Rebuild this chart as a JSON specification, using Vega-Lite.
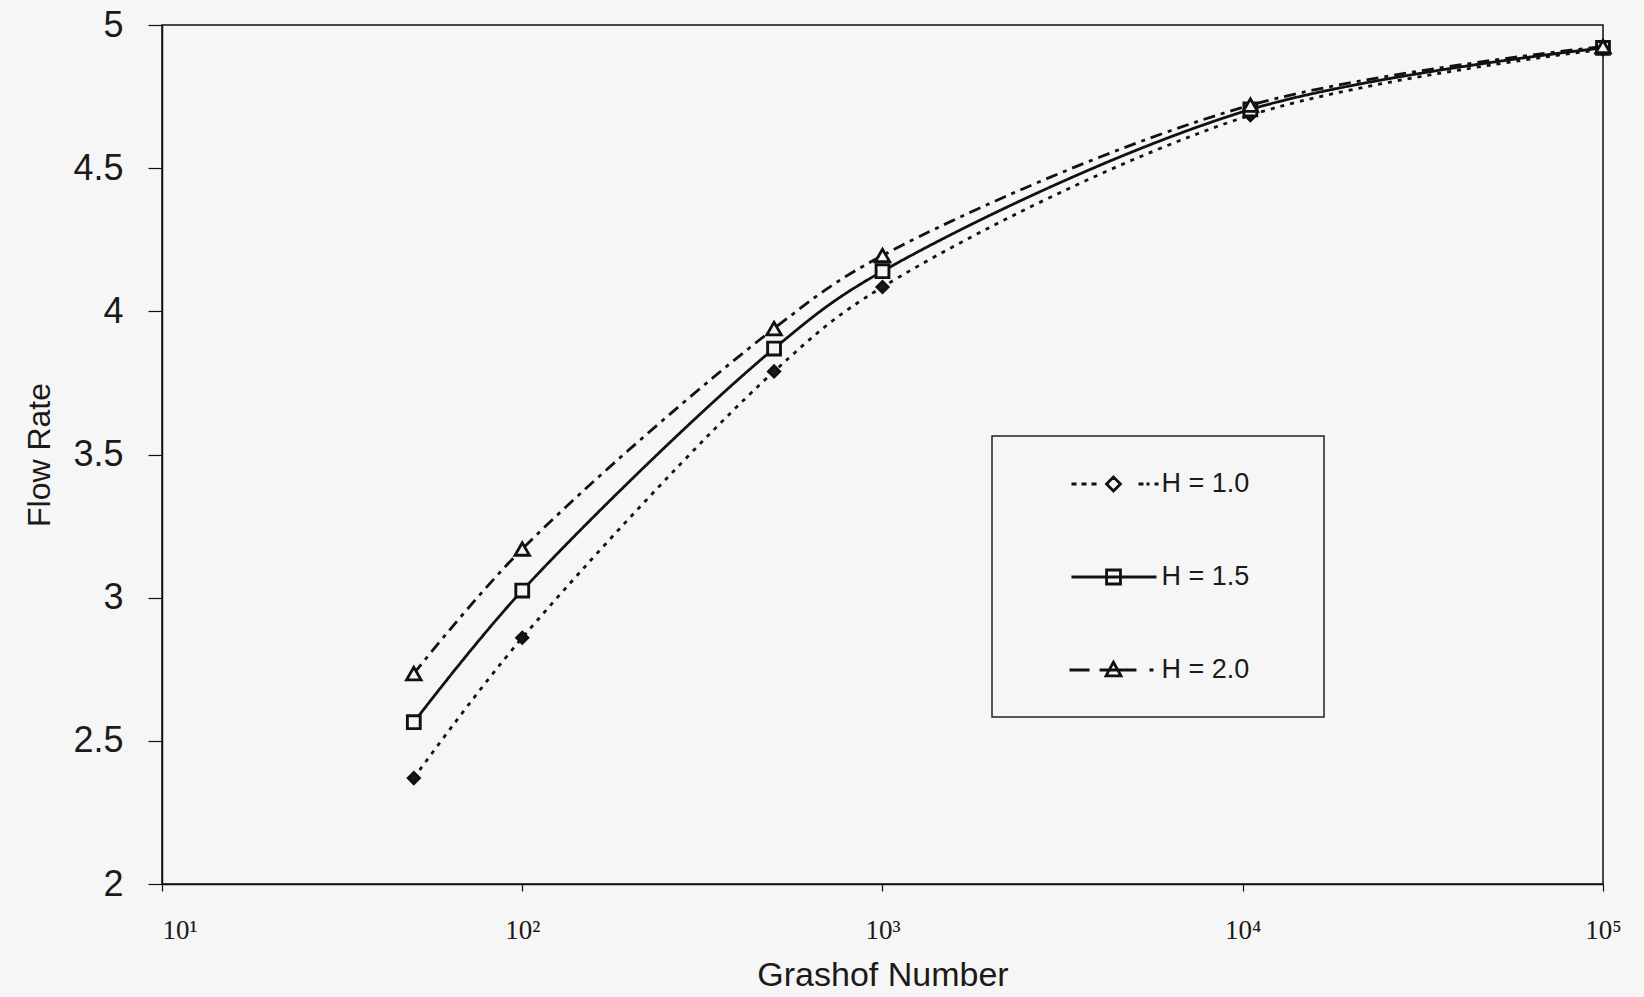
{
  "$schema": "https://vega.github.io/schema/vega-lite/v6.json",
  "width": 1441,
  "height": 859,
  "autosize": {"type": "none"},
  "padding": {"left": 162, "top": 25, "right": 41, "bottom": 113},
  "background": "#f7f6f6",
  "config": {
    "view": {"stroke": "#111111", "strokeWidth": 1.5},
    "font": "Liberation Sans",
    "legend": {"strokeColor": "#222222", "strokeWidth": 1.5}
  },
  "data": {
    "values": [
      {"H": "H = 1.0", "Gr": 50, "Flow": 2.37},
      {"H": "H = 1.0", "Gr": 100, "Flow": 2.86},
      {"H": "H = 1.0", "Gr": 500, "Flow": 3.79},
      {"H": "H = 1.0", "Gr": 1000, "Flow": 4.085},
      {"H": "H = 1.0", "Gr": 10500, "Flow": 4.685},
      {"H": "H = 1.0", "Gr": 100000, "Flow": 4.915},
      {"H": "H = 1.5", "Gr": 50, "Flow": 2.565},
      {"H": "H = 1.5", "Gr": 100, "Flow": 3.025},
      {"H": "H = 1.5", "Gr": 500, "Flow": 3.87},
      {"H": "H = 1.5", "Gr": 1000, "Flow": 4.14},
      {"H": "H = 1.5", "Gr": 10500, "Flow": 4.705},
      {"H": "H = 1.5", "Gr": 100000, "Flow": 4.92},
      {"H": "H = 2.0", "Gr": 50, "Flow": 2.735},
      {"H": "H = 2.0", "Gr": 100, "Flow": 3.17},
      {"H": "H = 2.0", "Gr": 500, "Flow": 3.94},
      {"H": "H = 2.0", "Gr": 1000, "Flow": 4.195},
      {"H": "H = 2.0", "Gr": 10500, "Flow": 4.72},
      {"H": "H = 2.0", "Gr": 100000, "Flow": 4.925}
    ]
  },
  "encoding": {
    "x": {
      "field": "Gr",
      "type": "quantitative",
      "scale": {"type": "log", "domain": [10, 100000]},
      "axis": {
        "title": "Grashof Number",
        "values": [10, 100, 1000, 10000, 100000],
        "labelExpr": "datum.value == 10 ? '10¹' : datum.value == 100 ? '10²' : datum.value == 1000 ? '10³' : datum.value == 10000 ? '10⁴' : '10⁵'",
        "labelAlign": {"expr": "datum.value == 10 ? 'left' : 'center'"},
        "labelFlush": false,
        "labelOverlap": false,
        "labelBound": false,
        "grid": false,
        "domainColor": "#111111",
        "domainWidth": 1.5,
        "tickColor": "#111111",
        "tickWidth": 1.2,
        "tickSize": 7,
        "labelFont": "Liberation Serif",
        "labelFontSize": 27,
        "labelColor": "#1a1a1a",
        "labelPadding": 26,
        "titleFont": "Liberation Sans",
        "titleFontSize": 34,
        "titleFontWeight": "normal",
        "titleColor": "#1a1a1a",
        "titlePadding": 15
      }
    },
    "y": {
      "field": "Flow",
      "type": "quantitative",
      "scale": {"domain": [2, 5], "zero": false},
      "axis": {
        "title": "Flow Rate",
        "values": [2, 2.5, 3, 3.5, 4, 4.5, 5],
        "format": "~g",
        "grid": false,
        "domainColor": "#111111",
        "domainWidth": 1.5,
        "tickColor": "#111111",
        "tickWidth": 1.2,
        "tickSize": 14,
        "labelFont": "Liberation Sans",
        "labelFontSize": 36,
        "labelColor": "#1a1a1a",
        "labelPadding": 25,
        "titleFont": "Liberation Sans",
        "titleFontSize": 32,
        "titleFontWeight": "normal",
        "titleColor": "#1a1a1a",
        "titlePadding": 16
      }
    }
  },
  "layer": [
    {
      "mark": {"type": "line", "interpolate": "catmull-rom", "color": "#111111", "strokeWidth": 2.8},
      "encoding": {
        "strokeDash": {
          "field": "H",
          "type": "nominal",
          "scale": {"domain": ["H = 1.0", "H = 1.5", "H = 2.0"], "range": [[4, 6], [1, 0], [12, 6, 4, 6]]},
          "legend": null
        }
      }
    },
    {
      "mark": {"type": "point", "filled": true, "stroke": "#111111", "opacity": 1},
      "encoding": {
        "shape": {
          "field": "H",
          "type": "nominal",
          "scale": {"domain": ["H = 1.0", "H = 1.5", "H = 2.0"], "range": ["diamond", "square", "triangle-up"]},
          "legend": null
        },
        "fill": {
          "field": "H",
          "type": "nominal",
          "scale": {"domain": ["H = 1.0", "H = 1.5", "H = 2.0"], "range": ["#1a1a1a", "#f7f6f6", "#f7f6f6"]},
          "legend": null
        },
        "size": {
          "field": "H",
          "type": "nominal",
          "scale": {"domain": ["H = 1.0", "H = 1.5", "H = 2.0"], "range": [120, 210, 230]},
          "legend": null
        },
        "strokeWidth": {
          "field": "H",
          "type": "nominal",
          "scale": {"domain": ["H = 1.0", "H = 1.5", "H = 2.0"], "range": [3, 2.8, 2.8]},
          "legend": null
        }
      }
    },
    {
      "transform": [{"filter": "false"}],
      "mark": {"type": "point", "filled": false, "color": "#111111", "opacity": 1, "strokeWidth": 2.8},
      "encoding": {
        "shape": {
          "field": "H",
          "type": "nominal",
          "scale": {
            "domain": ["H = 1.0", "H = 1.5", "H = 2.0"],
            "range": [
              "M2.42,0H2.81M3.19,0H3.58M3.96,0H4.35M7.58,0H7.96M8.19,0H8.42M8.81,0H9.12M5.12,0L5.65,-0.54L6.19,0L5.65,0.54Z",
              "M2.42,0H8.96M5.12,-0.54H6.19V0.54H5.12Z",
              "M2.27,0H3.81M4.58,0H7.42M8.42,0H8.73M5.65,-0.6L6.23,0.45L5.08,0.45Z"
            ]
          },
          "legend": {
            "title": "\u00a0",
            "titleOrient": "right",
            "titlePadding": 41,
            "titleFontSize": 14,
            "orient": "none",
            "legendX": 830,
            "legendY": 411,
            "padding": 33.5,
            "symbolSize": 676,
            "symbolStrokeColor": "#111111",
            "symbolStrokeWidth": 2.8,
            "symbolFillColor": "transparent",
            "symbolOpacity": 1,
            "labelFont": "Liberation Sans",
            "labelFontSize": 27,
            "labelColor": "#1a1a1a",
            "labelOffset": 107,
            "rowPadding": 65
          }
        }
      }
    }
  ],
  "resolve": {"scale": {"shape": "independent", "size": "independent", "strokeWidth": "independent", "fill": "independent"}, "legend": {"shape": "independent"}}
}
